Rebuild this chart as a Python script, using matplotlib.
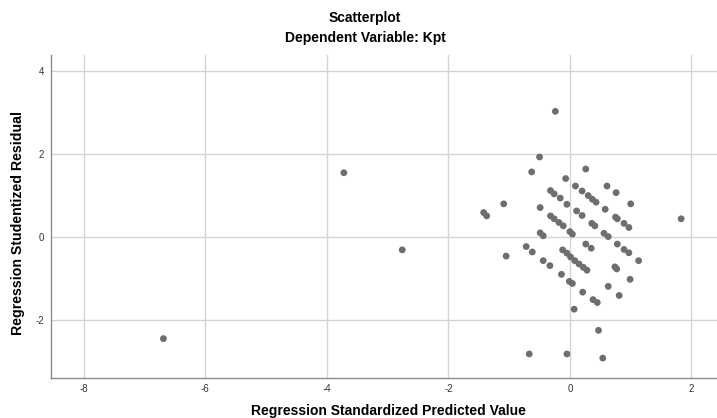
import matplotlib
matplotlib.use("Agg")
import matplotlib.pyplot as plt

plt.rcParams['font.family'] = ['Liberation Sans', 'DejaVu Sans']

title = "Scatterplot"
subtitle = "Dependent Variable: Kpt"
x_label = "Regression Standardized Predicted Value"
y_label = "Regression Studentized Residual"
x_ticks = [-8, -6, -4, -2, 0, 2]
y_ticks = [-2, 0, 2, 4]

predicted = [
    -6.69, -3.72, -2.76, 1.83, -0.24, -0.50, -0.63, -0.07, 0.09, 0.26,
    0.61, 0.20, -0.32, -0.26, -0.16, 0.30, 0.37, 0.43, 0.76, 1.00,
    -0.05, -1.09, -1.42, -1.37, -0.49, -0.32, -0.26, -0.18, -0.11, 0.11,
    0.20, 0.58, 0.75, 0.78, 0.89, 0.97, 0.36, 0.41, -0.49, -0.44,
    0.00, 0.04, 0.56, 0.63, -0.72, -0.62, -1.05, -0.12, -0.05, 0.01,
    0.08, 0.15, 0.22, 0.28, 0.26, 0.35, 0.78, 0.89, 0.97, 1.13,
    -0.44, -0.33, -0.14, -0.01, 0.04, 0.74, 0.77, 0.99, 0.63, 0.21,
    0.81, 0.38, 0.45, 0.07, 0.47, -0.67, -0.05, 0.54,
]
residual = [
    -2.45, 1.55, -0.31, 0.44, 3.03, 1.93, 1.57, 1.41, 1.23, 1.64,
    1.23, 1.11, 1.12, 1.04, 0.94, 1.00, 0.91, 0.84, 1.07, 0.80,
    0.79, 0.80, 0.59, 0.51, 0.71, 0.51, 0.44, 0.35, 0.27, 0.63,
    0.52, 0.67, 0.48, 0.44, 0.33, 0.23, 0.33, 0.27, 0.10, 0.03,
    0.13, 0.07, 0.09, 0.01, -0.23, -0.36, -0.46, -0.31, -0.39, -0.48,
    -0.57, -0.65, -0.73, -0.80, -0.17, -0.27, -0.17, -0.30, -0.38, -0.57,
    -0.57, -0.69, -0.90, -1.07, -1.12, -0.72, -0.77, -1.02, -1.19, -1.33,
    -1.41, -1.51, -1.58, -1.74, -2.25, -2.82, -2.82, -2.92,
]

fig = plt.figure(figsize=(7.17, 4.18), dpi=100)
ax = fig.add_axes([51/717, 1 - 378/418, 1 - 51/717, (378 - 55)/418])

ax.scatter(predicted, residual, s=24, color='#6e6e6e', edgecolors='none', zorder=3)

ax.set_xlim(-8.54, 2.42)
ax.set_ylim(-3.40, 4.39)
ax.set_xticks(x_ticks)
ax.set_yticks(y_ticks)
ax.set_xticklabels([str(t) for t in x_ticks])
ax.set_yticklabels([str(t) for t in y_ticks])
ax.tick_params(axis='both', length=0, labelsize=7, colors='#333333')
ax.tick_params(axis='x', pad=4)
ax.tick_params(axis='y', pad=5)
ax.grid(True, color='#d4d4d4', linewidth=1.0, zorder=0)
ax.set_axisbelow(True)
for side in ['top', 'right']:
    ax.spines[side].set_visible(False)
for side in ['left', 'bottom']:
    ax.spines[side].set_color('#8c8c8c')
    ax.spines[side].set_linewidth(1.0)

fig.text(388/717, 1 - 411/418, x_label, ha='center', va='center', fontsize=10, fontweight='bold')
fig.text(18/717, 1 - 223/418, y_label, ha='center', va='center', rotation=90, fontsize=10.2, fontweight='bold')

fig.text(365/717, 1 - 18/418, title, ha='center', va='center', fontsize=10, fontweight='bold')
fig.text(365/717, 1 - 38/418, subtitle, ha='center', va='center', fontsize=10, fontweight='bold')

fig.savefig("out.png", dpi=100)
